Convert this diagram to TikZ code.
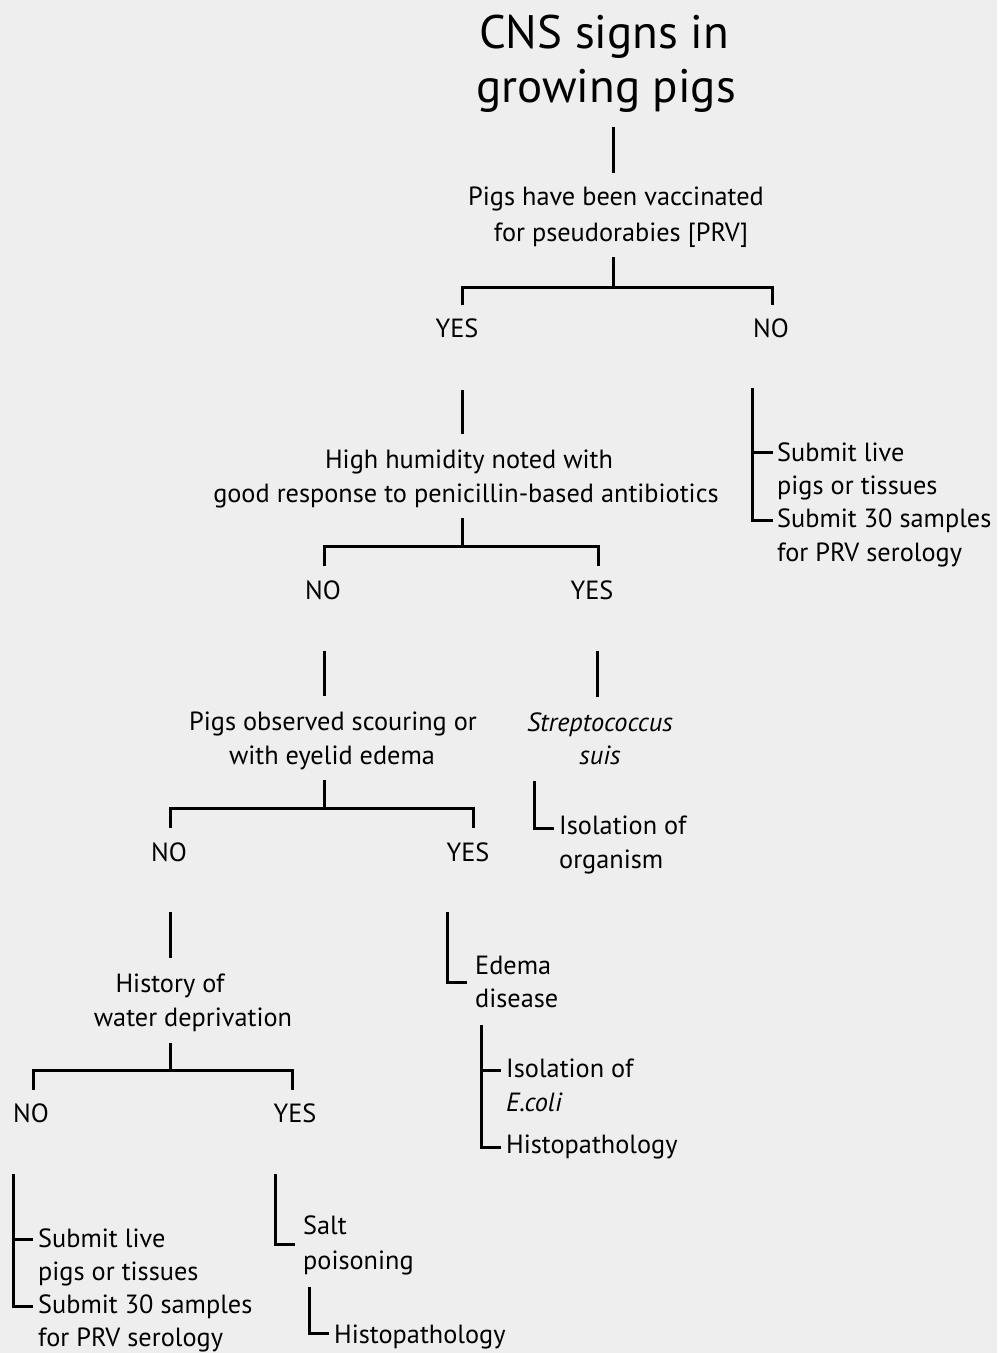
\documentclass[tikz,border=0pt]{standalone}
\usepackage{fontspec}
\setmainfont{PT Sans}
\definecolor{bgc}{HTML}{EEEEEE}
\begin{document}
\begin{tikzpicture}[x=1pt,y=-1pt,
  txt/.style={font=\fontsize{26.3}{34}\selectfont, inner sep=0pt, anchor=base},
  ltxt/.style={txt, anchor=base west},
  ttl/.style={font=\fontsize{47}{54}\selectfont, inner sep=0pt, anchor=base},
  br/.style={line width=3pt, line join=miter, line cap=butt}]
\fill[bgc] (0,0) rectangle (997,1353);
\useasboundingbox (0,0) rectangle (997,1353);

% Title
\node[ttl] (t1) at (604,48) {CNS signs in};
\node[ttl] (t2) at (606,102) {growing pigs};

% Q1
\node[txt] (q1a) at (616,205) {Pigs have been vaccinated};
\node[txt] (q1b) at (621,241) {for pseudorabies [PRV]};
\coordinate (c1a) at (613,127); \coordinate (c1b) at (613,173);
\draw[br] (c1a) -- (c1b);
\coordinate (j1) at (613,257); \coordinate (h1) at (613,287);
\coordinate (h1l) at (462,287); \coordinate (h1r) at (772,287);
\coordinate (d1l) at (462,305); \coordinate (d1r) at (772,305);
\draw[br] (j1) -- (h1);
\draw[br] (d1l) -- (h1l) -- (h1r) -- (d1r);
\node[txt] (yes1) at (457,337) {YES};
\node[txt] (no1) at (771,337) {NO};

% NO branch right
\coordinate (r1t) at (752,388); \coordinate (r1a) at (752,452); \coordinate (r1b) at (752,520);
\coordinate (r1ae) at (773,452); \coordinate (r1be) at (773,520);
\draw[br] (r1t) -- (r1b) -- (r1be);
\draw[br] (r1a) -- (r1ae);
\node[ltxt] (s1a) at (777,461) {Submit live};
\node[ltxt] (s1b) at (777,494) {pigs or tissues};
\node[ltxt] (s1c) at (777,527) {Submit 30 samples};
\node[ltxt] (s1d) at (777,561) {for PRV serology};

% Q2
\coordinate (c2a) at (462,390); \coordinate (c2b) at (462,434);
\draw[br] (c2a) -- (c2b);
\node[txt] (q2a) at (469,468) {High humidity noted with};
\node[txt] (q2b) at (466,502) {good response to penicillin-based antibiotics};
\coordinate (j2) at (462,518); \coordinate (h2) at (462,546);
\coordinate (h2l) at (324,546); \coordinate (h2r) at (598,546);
\coordinate (d2l) at (324,566); \coordinate (d2r) at (598,566);
\draw[br] (j2) -- (h2);
\draw[br] (d2l) -- (h2l) -- (h2r) -- (d2r);
\node[txt] (no2) at (323,599) {NO};
\node[txt] (yes2) at (592,599) {YES};

% Streptococcus
\coordinate (c3a) at (597,651); \coordinate (c3b) at (597,697);
\draw[br] (c3a) -- (c3b);
\node[txt] (sa) at (600,731) {\itshape Streptococcus};
\node[txt] (sb) at (600,764) {\itshape suis};
\coordinate (i1t) at (534,781); \coordinate (i1c) at (534,828); \coordinate (i1e) at (554,828);
\draw[br] (i1t) -- (i1c) -- (i1e);
\node[ltxt] (io1) at (559,834) {Isolation of};
\node[ltxt] (io2) at (559,868) {organism};

% Q3
\coordinate (c4a) at (324,651); \coordinate (c4b) at (324,696);
\draw[br] (c4a) -- (c4b);
\node[txt] (q3a) at (333,730) {Pigs observed scouring or};
\node[txt] (q3b) at (332,764) {with eyelid edema};
\coordinate (j3) at (324,780); \coordinate (h3) at (324,808);
\coordinate (h3l) at (170,808); \coordinate (h3r) at (473,808);
\coordinate (d3l) at (170,828); \coordinate (d3r) at (473,828);
\draw[br] (j3) -- (h3);
\draw[br] (d3l) -- (h3l) -- (h3r) -- (d3r);
\node[txt] (no3) at (169,861) {NO};
\node[txt] (yes3) at (468,861) {YES};

% Edema disease
\coordinate (e1t) at (447,912); \coordinate (e1c) at (447,982); \coordinate (e1e) at (467,982);
\draw[br] (e1t) -- (e1c) -- (e1e);
\node[ltxt] (ed1) at (475,974) {Edema};
\node[ltxt] (ed2) at (475,1007) {disease};
\coordinate (e2t) at (481,1025); \coordinate (e2a) at (481,1070); \coordinate (e2b) at (481,1147);
\coordinate (e2ae) at (501,1070); \coordinate (e2be) at (501,1147);
\draw[br] (e2t) -- (e2b) -- (e2be);
\draw[br] (e2a) -- (e2ae);
\node[ltxt] (ie1) at (506,1077) {Isolation of};
\node[ltxt] (ie2) at (506,1111) {\itshape E.coli};
\node[ltxt] (hp1) at (506,1153) {Histopathology};

% Q4
\coordinate (c5a) at (170,912); \coordinate (c5b) at (170,958);
\draw[br] (c5a) -- (c5b);
\node[txt] (q4a) at (170,992) {History of};
\node[txt] (q4b) at (193,1026) {water deprivation};
\coordinate (j4) at (170,1043); \coordinate (h4) at (170,1070);
\coordinate (h4l) at (33,1070); \coordinate (h4r) at (292,1070);
\coordinate (d4l) at (33,1090); \coordinate (d4r) at (292,1090);
\draw[br] (j4) -- (h4);
\draw[br] (d4l) -- (h4l) -- (h4r) -- (d4r);
\node[txt] (no4) at (31,1122) {NO};
\node[txt] (yes4) at (295,1122) {YES};

% NO branch bottom left
\coordinate (r2t) at (13,1174); \coordinate (r2a) at (13,1239); \coordinate (r2b) at (13,1306);
\coordinate (r2ae) at (33,1239); \coordinate (r2be) at (33,1306);
\draw[br] (r2t) -- (r2b) -- (r2be);
\draw[br] (r2a) -- (r2ae);
\node[ltxt] (s2a) at (38,1247) {Submit live};
\node[ltxt] (s2b) at (38,1280) {pigs or tissues};
\node[ltxt] (s2c) at (38,1313) {Submit 30 samples};
\node[ltxt] (s2d) at (38,1346) {for PRV serology};

% Salt poisoning
\coordinate (p1t) at (275,1174); \coordinate (p1c) at (275,1244); \coordinate (p1e) at (295,1244);
\draw[br] (p1t) -- (p1c) -- (p1e);
\node[ltxt] (sp1) at (303,1234) {Salt};
\node[ltxt] (sp2) at (303,1269) {poisoning};
\coordinate (p2t) at (309,1287); \coordinate (p2c) at (309,1333); \coordinate (p2e) at (329,1333);
\draw[br] (p2t) -- (p2c) -- (p2e);
\node[ltxt] (hp2) at (334,1343) {Histopathology};
\end{tikzpicture}
\end{document}
